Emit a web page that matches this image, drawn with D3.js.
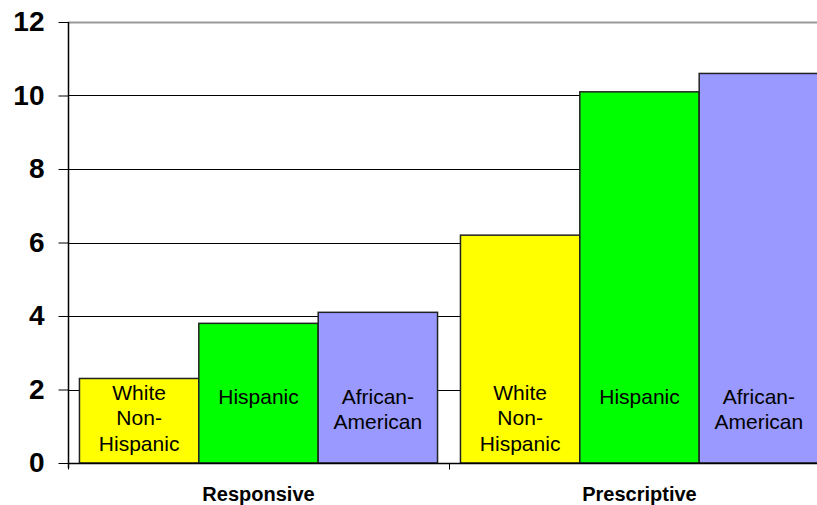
<!DOCTYPE html>
<html>
<head>
<meta charset="utf-8">
<script src="https://cdn.jsdelivr.net/npm/d3@7"></script>
<style>
  body { margin: 0; background: #fff; }
  svg { display: block; font-family: "Liberation Sans", Arial, sans-serif; }
</style>
</head>
<body>
<div id="chart"></div>
<script>
// data
const categories = ["Responsive", "Prescriptive"]
const groups = ["White Non-Hispanic", "Hispanic", "African-American"]
const groupLines = [["White", "Non-", "Hispanic"], ["Hispanic"], ["African-", "American"]]
const groupColors = ["#ffff00", "#00ff00", "#9999ff"]
const responsiveValues = [2.3, 3.8, 4.1]
const prescriptiveValues = [6.2, 10.1, 10.6]
const yTicks = [0, 2, 4, 6, 8, 10, 12]

const seriesByCategory = [responsiveValues, prescriptiveValues]

const width = 817
const height = 505
const margin = {top: 22, left: 68, bottom: 42}
const plotRight = 830 // the plot runs a little past the window edge

const svg = d3.select("#chart").append("svg")
    .attr("width", width)
    .attr("height", height)

const y = d3.scaleLinear()
    .domain([0, 12])
    .range([height - margin.bottom, margin.top])

const x = d3.scaleBand()
    .domain(categories)
    .range([margin.left, plotRight])
    .padding(0)

const xInner = d3.scaleBand()
    .domain(groups)
    .range([0, x.bandwidth()])
    .paddingInner(0)
    .paddingOuter(0.096)

// gridlines
svg.append("g")
    .selectAll("line")
    .data(yTicks.filter(t => t > 0))
    .join("line")
    .attr("x1", margin.left)
    .attr("x2", width)
    .attr("y1", d => Math.round(y(d)) + 0.5)
    .attr("y2", d => Math.round(y(d)) + 0.5)
    .attr("stroke", d => d === 12 ? "#999" : "#000")
    .attr("stroke-width", d => d === 12 ? 2 : 1)

// bars
const flat = []
categories.forEach((c, i) => {
  groups.forEach((g, j) => {
    flat.push({cat: c, group: g, idx: j, value: seriesByCategory[i][j]})
  })
})

svg.append("g")
    .selectAll("rect")
    .data(flat)
    .join("rect")
    .attr("x", d => x(d.cat) + xInner(d.group))
    .attr("y", d => y(d.value))
    .attr("width", xInner.bandwidth())
    .attr("height", d => y(0) - y(d.value))
    .attr("fill", d => groupColors[d.idx])
    .attr("stroke", "#222")
    .attr("stroke-width", 1.5)

// labels inside bars
const labels = svg.append("g")
    .selectAll("text")
    .data(flat)
    .join("text")
    .attr("text-anchor", "middle")
    .style("font-size", "21px")
    .attr("fill", "#000")

labels.each(function(d) {
  const lines = groupLines[d.idx]
  const cx = x(d.cat) + xInner(d.group) + xInner.bandwidth() / 2
  const firstBaseline = lines.length === 3 ? 400 : 404
  d3.select(this).selectAll("tspan")
    .data(lines)
    .join("tspan")
    .attr("x", cx)
    .attr("y", (l, k) => firstBaseline + k * 25.3)
    .text(l => l)
})

// y axis
const yAxis = svg.append("g")
    .attr("transform", `translate(${margin.left + 0.5},0)`)
    .call(d3.axisLeft(y).tickValues(yTicks).tickSize(10).tickPadding(14))

yAxis.select(".domain")
    .attr("d", `M0,${margin.top}V${y(0) + 5}`)
    .attr("stroke", "#000")
    .attr("stroke-width", 1.5)

yAxis.selectAll(".tick line").attr("stroke", "#000")
yAxis.selectAll(".tick text")
    .style("font-size", "28px")
    .style("font-weight", "bold")
    .attr("fill", "#000")

// x axis
const xAxis = svg.append("g")
    .attr("transform", `translate(0,${Math.round(y(0)) + 0.5})`)

xAxis.append("line")
    .attr("x1", margin.left)
    .attr("x2", width)
    .attr("stroke", "#000")
    .attr("stroke-width", 1.5)

xAxis.selectAll(".cat-tick")
    .data(categories.map(c => x(c)).concat([plotRight]))
    .join("line")
    .attr("class", "cat-tick")
    .attr("x1", d => d + 0.5)
    .attr("x2", d => d + 0.5)
    .attr("y1", 0)
    .attr("y2", 6)
    .attr("stroke", "#000")

xAxis.selectAll(".cat-label")
    .data(categories)
    .join("text")
    .attr("class", "cat-label")
    .attr("x", d => x(d) + x.bandwidth() / 2)
    .attr("y", 37)
    .attr("text-anchor", "middle")
    .style("font-size", "20px")
    .style("font-weight", "bold")
    .text(d => d)
</script>
</body>
</html>
